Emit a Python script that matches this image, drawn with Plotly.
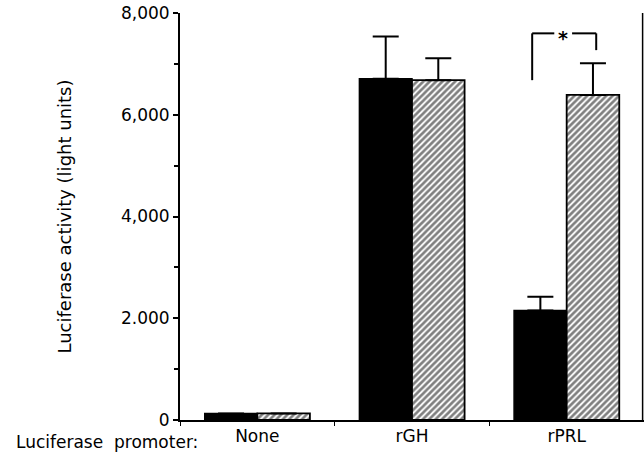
import plotly.graph_objects as go

# ---- data ----
categories = ["None", "rGH", "rPRL"]
black_values = [130, 6710, 2150]
hatched_values = [130, 6680, 6390]
black_err = [0, 830, 275]
hatched_err = [0, 430, 620]
y_tickvals = [0, 2000, 4000, 6000, 8000]
y_ticktext = ["0", "2.000", "4,000", "6,000", "8,000"]

FONT = "DejaVu Sans"

fig = go.Figure()
fig.add_trace(go.Bar(
    x=categories, y=black_values,
    marker=dict(color="black", line=dict(color="black", width=1.5)),
    error_y=dict(type="data", array=black_err, arrayminus=[0, 0, 0], symmetric=False,
                 color="black", thickness=2, width=13),
    showlegend=False,
))
fig.add_trace(go.Bar(
    x=categories, y=hatched_values,
    marker=dict(color="white", line=dict(color="black", width=1.8),
                pattern=dict(shape="/", fgcolor="black", bgcolor="white", size=4.5, solidity=0.6)),
    error_y=dict(type="data", array=hatched_err, arrayminus=[0, 0, 0], symmetric=False,
                 color="black", thickness=2, width=13),
    showlegend=False,
))

# significance bracket over rPRL pair
bx0, bx1 = 1.777, 2.191
by_top, by_left, by_right = 7600, 6680, 7270
lw = dict(color="black", width=2)
fig.add_shape(type="line", xref="x", yref="y", x0=bx0, x1=bx0, y0=by_left, y1=by_top, line=lw)
fig.add_shape(type="line", xref="x", yref="y", x0=bx0, x1=1.92, y0=by_top, y1=by_top, line=lw)
fig.add_shape(type="line", xref="x", yref="y", x0=2.035, x1=bx1, y0=by_top, y1=by_top, line=lw)
fig.add_shape(type="line", xref="x", yref="y", x0=bx1, x1=bx1, y0=by_top, y1=by_right, line=lw)
fig.add_annotation(x=1.975, y=by_top, xref="x", yref="y", text="<b>*</b>", showarrow=False,
                   yanchor="middle", yshift=-5, font=dict(family=FONT, size=19, color="black"))

# right frame line (cropped neighbouring panel)
fig.add_shape(type="line", xref="paper", yref="paper", x0=0.997, x1=0.997, y0=0, y1=1,
              line=dict(color="black", width=1.5))

fig.add_annotation(x=0, y=-0.055, xref="paper", yref="paper", xanchor="right", yanchor="middle",
                   xshift=20, text="Luciferase  promoter:", showarrow=False,
                   font=dict(family=FONT, size=17, color="black"))

fig.update_layout(
    width=644, height=453,
    margin=dict(l=180, r=0, t=13, b=33),
    paper_bgcolor="white", plot_bgcolor="white",
    barmode="group", bargap=0.32, bargroupgap=0,
    font=dict(family=FONT, size=17, color="black"),
    xaxis=dict(range=[-0.5, 2.5], showline=True, linecolor="black", linewidth=2,
               ticks="outside", tickson="boundaries", ticklen=4, tickcolor="black",
               tickfont=dict(family=FONT, size=17), showgrid=False, zeroline=False,
               fixedrange=True),
    yaxis=dict(range=[0, 8000], showline=True, linecolor="black", linewidth=2,
               tickvals=y_tickvals, ticktext=y_ticktext,
               ticks="outside", ticklen=5, tickcolor="black", tickwidth=1.5,
               minor=dict(dtick=1000, ticks="outside", ticklen=4, tickcolor="black", tickwidth=1.5),
               tickfont=dict(family=FONT, size=17), showgrid=False, zeroline=False,
               fixedrange=True,
               title=dict(text="Luciferase activity (light units)", standoff=45,
                          font=dict(family=FONT, size=18))),
)

fig.write_html("out.html", config={"displayModeBar": False},
               post_script="document.body.style.margin='0';document.body.style.overflow='hidden';")
